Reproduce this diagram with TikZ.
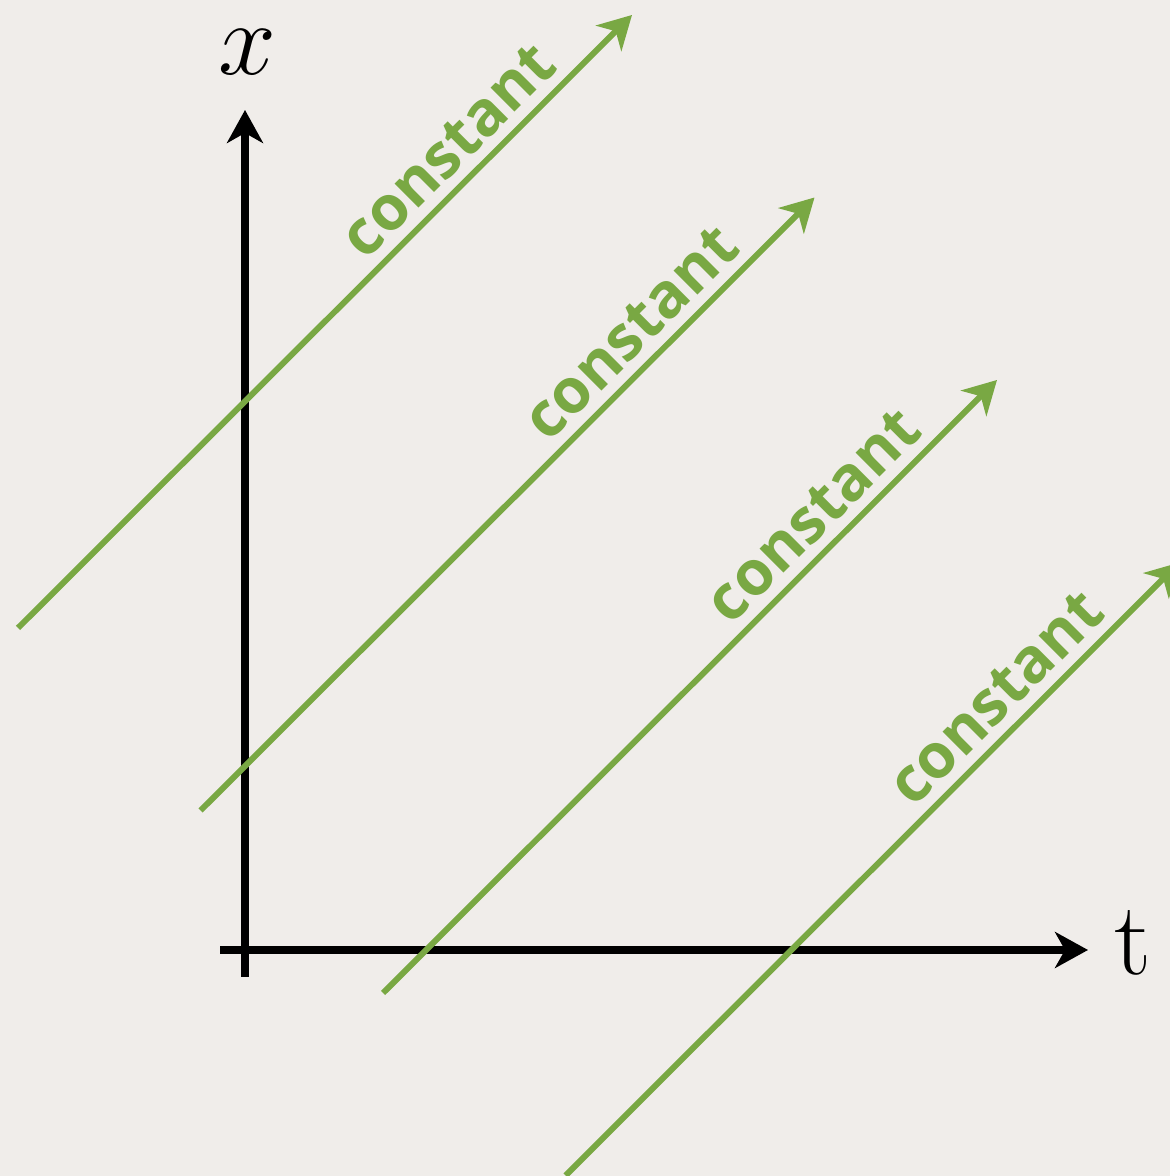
\documentclass[tikz,border=0pt]{standalone}
\usepackage{fix-cm}
\usepackage{fontspec}
\newfontfamily\openbold{Open Sans}[BoldFont=* Bold]
\usetikzlibrary{arrows.meta}
\definecolor{bgcol}{HTML}{F0EDEA}
\definecolor{cgreen}{HTML}{79A843}

\begin{document}
\begin{tikzpicture}[
    x=0.5pt, y=0.5pt,
    >={Stealth[length=16.5pt, width=18pt, inset=5pt]},
    axis/.style={->, line width=3.75pt, black},
    wave/.style={->, line width=3pt, cgreen},
    lbl/.style={font=\fontsize{31}{38}\openbold\bfseries, text=cgreen, sloped, above=5pt, inner sep=0pt},
    axlbl/.style={font=\fontsize{52}{60}\selectfont, inner sep=0pt}
]
    \fill[bgcol] (0,0) rectangle (1170,1176);
    \useasboundingbox (0,0) rectangle (1170,1176);
    \clip (0,0) rectangle (1170,1176);
    \coordinate (xs) at (245,199);
    \coordinate (xe) at (245,1066);
    \coordinate (ts) at (220,226);
    \coordinate (te) at (1088,226);
    \draw[axis] (xs) -- (xe);
    \draw[axis] (ts) -- (te);
    \node[axlbl] (xlab) at (247,1124) {$x$};
    \node[axlbl] (tlab) at (1133,233) {t};
    \foreach \k in {0,...,3} {
        \coordinate (s\k) at (18+182.5*\k, 548-182.5*\k);
        \coordinate (e\k) at (632+182.5*\k, 1161-182.5*\k);
        \draw[wave] (s\k) -- node[lbl, pos=0.74] (c\k) {constant} (e\k);
    }
\end{tikzpicture}
\end{document}
